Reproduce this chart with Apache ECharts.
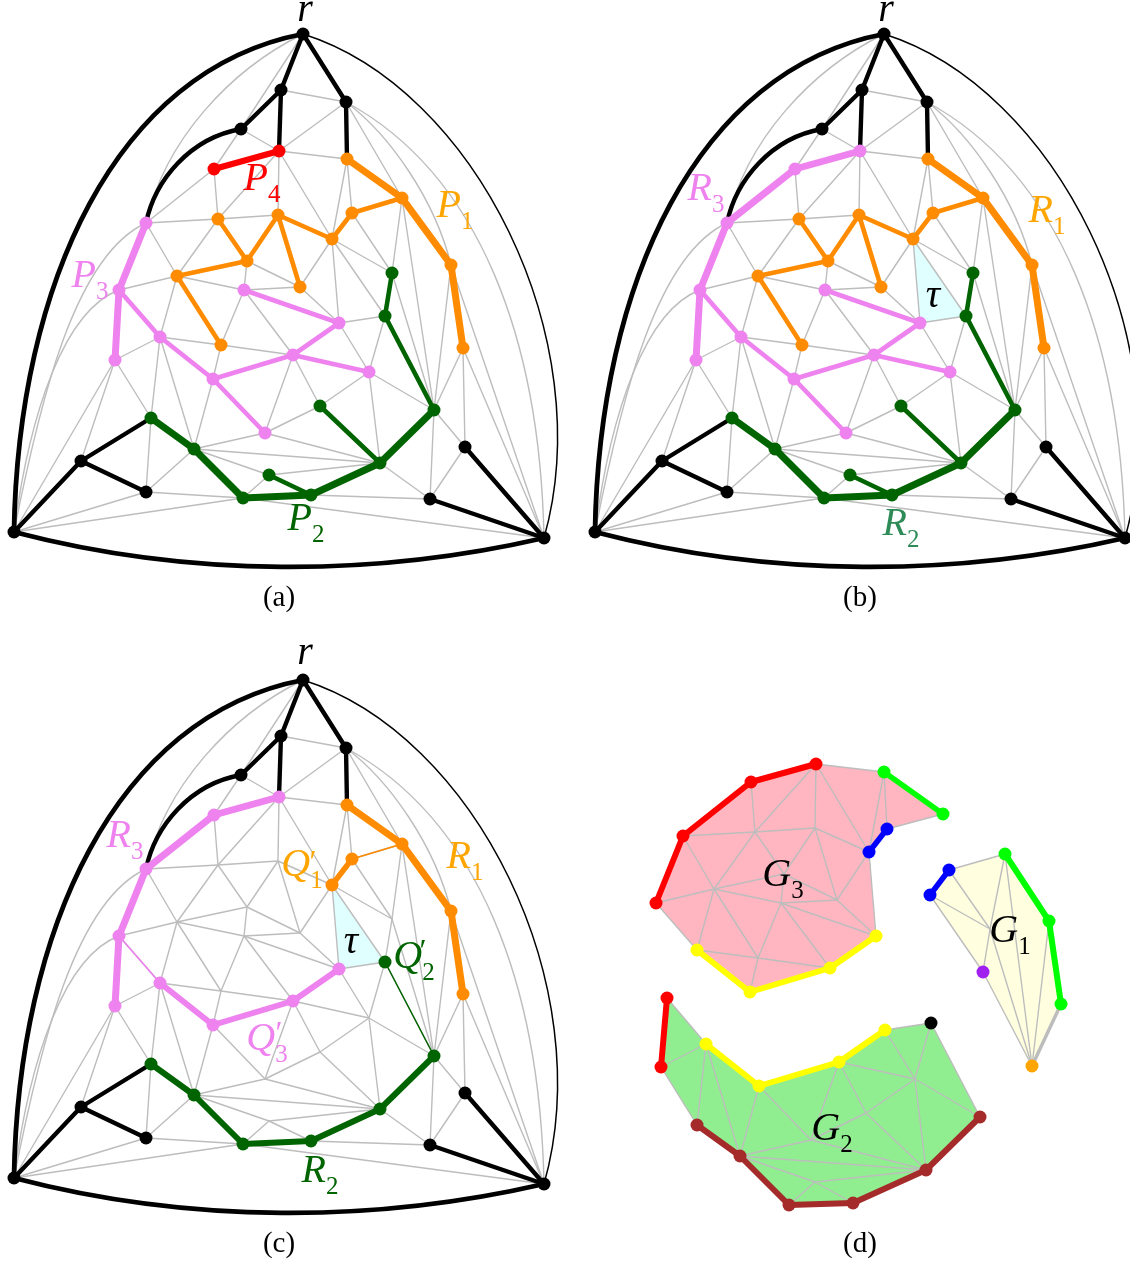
<!DOCTYPE html>
<html><head><meta charset="utf-8">
<style>html,body{margin:0;padding:0;background:#fff}#c{width:1130px;height:1262px}</style>
<script src="https://cdn.jsdelivr.net/npm/echarts@6/dist/echarts.min.js"></script>
</head><body><div id="c"></div>
<script>
const nodes = {
 r:[303,34],BL:[14,532],BR:[544,538],
 b1:[281,90],b2:[241,129],b3:[346,102],red1:[279,151],red2:[214,169],
 o1:[347,159],o2:[402,198],o3:[451,265],o4:[463,348],o5:[352,213],o6:[332,239],
 o7:[278,215],o8:[218,219],o9:[247,261],o10:[177,276],o11:[221,345],o12:[300,287],
 g1:[392,273],g2:[385,316],g3:[434,410],g4:[380,463],g5:[311,495],g6:[243,498],
 g7:[194,449],g8:[151,418],g9:[320,406],g10:[269,475],
 v1:[146,223],v2:[119,290],v3:[115,360],v4:[160,337],v5:[213,379],v6:[293,355],
 v7:[369,372],v8:[265,433],v9:[244,290],v10:[339,323],
 k1:[81,461],k2:[146,492],k3:[430,499],k4:[465,447]
};
const straightEdges = `r-b1 r-b3 r-b2 b1-b2 b1-b3 b1-red1 b3-o1 b2-red1 b2-red2 red1-red2 red1-b3 red1-o1 red1-o6 red1-o7 red1-o8
 red2-o8 red2-v1 v1-o8 v1-o10 v1-v2 v2-v3 v2-v4 v2-o10 v3-v4 v3-g8 v3-k1 v3-BL v4-o10 v4-o11 v4-v5 v4-g8 v4-g7
 o8-o7 o8-o9 o8-o10 o7-o9 o7-o12 o7-o6 o9-o10 o9-v9 o9-o12 o10-v9 o10-o11 v9-o11 v9-o12 v9-v10 v9-v6 o11-v5 o11-v6
 o12-o6 o12-v10 o6-o5 o6-v10 o6-g2 o6-g1 o5-o1 o6-o1 o5-o2 o5-g1 o1-o2 b3-o2 o2-o3 o3-o4 o2-g1 g1-g2 g1-g3 o2-g3 o3-g3 o3-BR o4-g3 o4-k4 o4-BR
 g2-g3 g2-v10 g2-v7 v10-v6 v10-v7 v6-v5 v6-v7 v6-v8 v6-g9 v5-v8 v5-g7 v7-g3 v7-g9 v7-g4 g9-g4 g9-v8 v8-g7 v8-g4
 g3-g4 g3-k3 g3-k4 k3-k4 g4-k3 g4-g5 g4-g7 g4-g10 g5-g6 g5-g10 g5-k3 g6-g7 g6-g10 g7-g8 g7-g10 g7-k2 g8-k1 g8-k2 k1-k2 k1-BL k2-g6 k2-BL g6-BL g6-BR k3-BR k4-BR`
 .trim().split(/\s+/).map(s=>s.split('-'));
// curved edges: start, two control values, end
const curveRBL = [[303,34],[115,70],[18,285],[14,532]];
const curveBLBR = [[14,532],[190,578],[375,577],[544,538]];
const curveRBR = [[303,34],[475,88],[600,340],[544,538]];
const curveB2V1 = [[241,129],[190,138],[155,180],[146,223]];
const curveRV1 = [[303,34],[230,70],[165,140],[146,223]];
const curveBLV1 = [[14,532],[40,400],[75,255],[146,223]];
const curveBLV2 = [[14,532],[30,410],[65,310],[119,290]];
const curveB3O3 = [[346,102],[390,135],[435,200],[451,265]];
const curveB3BR = [[346,102],[480,175],[540,340],[544,538]];
const greyCurves = [curveRV1,curveBLV1,curveBLV2,curveB3O3,curveB3BR];

const GREY='#bdbdbd',ORANGE='#ff8c00',VIOLET='#ee82ee',GREEN='#006400',RED='#ff0000',BLACK='#000000';
const LIME='#00ff00',BLUE='#0000ff',YELLOW='#ffff00',BROWN='#a52a2a';
const blackPaths = ['r b1 b2','b1 red1','r b3 o1','BL k1 g8','k1 k2','k3 BR','k4 BR'];
const orangeThick=['o1 o2 o3 o4'], orangeMid=['o2 o5 o6 o7 o12','o7 o9 o8','o9 o10 o11'];
const greenThick=['g3 g4 g5 g6 g7 g8'], greenMid=['g1 g2 g3','g4 g9','g5 g10'];
const violetThick=['v1 v2 v3'], violetMid=['v2 v4 v5 v6 v10 v9','v6 v7','v5 v8'];
const blackNodes='r b1 b2 b3 BL BR k1 k2 k3 k4';
const orangeNodes='o1 o2 o3 o4 o5 o6 o7 o8 o9 o10 o11 o12';
const greenNodes='g1 g2 g3 g4 g5 g6 g7 g8 g9 g10';
const violetNodes='v1 v2 v3 v4 v5 v6 v7 v8 v9 v10';
const tau=['o6','g2','v10'];

// Sub-graphs of panel (d)
const g3Nodes='red1 red2 v1 v2 o1 o2 o5 o6 o8 o7 o10 o9 v9 o12 v10 v6 v5 v4 o11';
const g2Nodes='v2 v3 v4 v5 v6 v7 v10 g2 g3 g4 g5 g6 g7 g8 g9 v8 g10';
const g1Nodes='o2 o3 o4 o5 o6 g1 g2 g3';
const g3Outline='v2 v1 red2 red1 o1 o2 o5 o6 v10 v6 v5 v4';
const g2Outline='v2 v4 v5 v6 v10 g2 g3 g4 g5 g6 g7 g8 v3';
const g1Outline='o5 o2 o3 o4 g3 g2 o6';

const THICK=7,MID=4.6,BL_W=4.4;
const series=[];
const toSeg=(pts,color,width,z)=>series.push({type:'line',data:pts,symbol:'none',silent:true,animation:false,z:z,
   lineStyle:{color:color,width:width,cap:'round',join:'round'}});
const toCurve=(pts,color,width,z)=>series.push({type:'custom',silent:true,animation:false,z:z,clip:true,
   data:[pts.flat()],
   renderItem:(params,api)=>{
     const q=[0,2,4,6].map(i=>api.coord([api.value(i),api.value(i+1)]));
     return {type:'bezierCurve',shape:{x1:q[0][0],y1:q[0][1],cpx1:q[1][0],cpy1:q[1][1],cpx2:q[2][0],cpy2:q[2][1],x2:q[3][0],y2:q[3][1]},
       style:{fill:null,stroke:color,lineWidth:width,lineCap:'round'}};
   }});
const shift=(p,o)=>[p[0]+o[0],p[1]+o[1]];
const pos=(n,o,ov)=>ov&&ov[n]?ov[n]:shift(nodes[n],o);
const paths=(list,color,w,o,ov)=>list.forEach(s=>{const a=s.split(' ');
   for(let i=0;i<a.length-1;i++) toSeg([pos(a[i],o,ov),pos(a[i+1],o,ov)],color,w,3);});
const dots=(names,color,o,ov,size)=>series.push({type:'scatter',silent:true,animation:false,z:4,symbolSize:size||13,
   itemStyle:{color:color,opacity:1},data:names.trim().split(/\s+/).map(n=>pos(n,o,ov))});
const polys=[];
function poly(names,fill,o,ov){polys.push({pts:names.map(n=>pos(n,o,ov)),fill:fill});}

function framework(o){
  straightEdges.forEach(e=>toSeg([shift(nodes[e[0]],o),shift(nodes[e[1]],o)],GREY,1.4,2));
  greyCurves.forEach(c=>toCurve(c.map(p=>shift(p,o)),GREY,1.4,2));
  toCurve(curveRBL.map(p=>shift(p,o)),BLACK,BL_W+.4,3);
  toCurve(curveBLBR.map(p=>shift(p,o)),BLACK,BL_W+.4,3);
  toCurve(curveRBR.map(p=>shift(p,o)),BLACK,1.5,3);
  toCurve(curveB2V1.map(p=>shift(p,o)),BLACK,BL_W,3);
  paths(blackPaths,BLACK,BL_W,o);
  dots(blackNodes,BLACK,o);
}
// panel a
let O=[0,0];
framework(O);
paths(['red1 red2'],RED,6,O);
paths(orangeThick,ORANGE,THICK,O);paths(orangeMid,ORANGE,MID,O);
paths(greenThick,GREEN,THICK,O);paths(greenMid,GREEN,MID,O);
paths(violetThick,VIOLET,THICK,O);paths(violetMid,VIOLET,MID,O);
dots('red1 red2',RED,O);dots(orangeNodes,ORANGE,O);dots(greenNodes,GREEN,O);dots(violetNodes,VIOLET,O);
// panel b
O=[581,0];
poly(tau,'#e0ffff',O);
framework(O);
paths(orangeThick,ORANGE,THICK,O);paths(orangeMid,ORANGE,MID,O);
paths(greenThick,GREEN,THICK,O);paths(greenMid,GREEN,MID,O);
paths(['v3 v2 v1 red2 red1'],VIOLET,THICK,O);paths(violetMid,VIOLET,MID,O);
dots(orangeNodes,ORANGE,O);dots(greenNodes,GREEN,O);dots(violetNodes+' red1 red2',VIOLET,O);
// panel c
O=[0,646];
poly(tau,'#e0ffff',O);
framework(O);
paths(['o1 o2 o3 o4'],ORANGE,THICK,O);paths(['o5 o6'],ORANGE,5.5,O);paths(['o5 o2'],ORANGE,1.6,O);
paths(greenThick,GREEN,6,O);paths(['g2 g3'],GREEN,1.5,O);
paths(['v3 v2 v1 red2 red1'],VIOLET,THICK,O);paths(['v4 v5 v6 v10'],VIOLET,6,O);paths(['v2 v4'],VIOLET,1.6,O);
dots('o1 o2 o3 o4 o5 o6',ORANGE,O);dots('g2 g3 g4 g5 g6 g7 g8',GREEN,O);dots('v1 v2 v3 v4 v5 v6 v10 red1 red2',VIOLET,O);
// panel d
function part(names,o,ov,outline,fill){
  const set=new Set(names.split(' '));
  poly(outline.split(' '),fill,o,ov);
  straightEdges.filter(e=>set.has(e[0])&&set.has(e[1])).forEach(e=>toSeg([pos(e[0],o,ov),pos(e[1],o,ov)],GREY,1.4,2));
}
const g3Off=[537,613],g3Ov={o2:[943,814],o5:[887,829]};
part(g3Nodes,g3Off,g3Ov,g3Outline,'#ffb6c1');
paths(['v2 v1 red2 red1'],RED,6,g3Off,g3Ov);paths(['o1 o2'],LIME,5.5,g3Off,g3Ov);
paths(['o5 o6'],BLUE,5.5,g3Off,g3Ov);paths(['v4 v5 v6 v10'],YELLOW,6,g3Off,g3Ov);
dots('v2 v1 red2 red1',RED,g3Off,g3Ov);dots('o1 o2',LIME,g3Off,g3Ov);dots('o5 o6',BLUE,g3Off,g3Ov);dots('v4 v5 v6 v10',YELLOW,g3Off,g3Ov);

const g2Off=[546,707],g2Ov={g5:[853,1203],v2:[667,998]};
part(g2Nodes,g2Off,g2Ov,g2Outline,'#90ee90');
paths(['v2 v3'],RED,6,g2Off,g2Ov);paths(['v4 v5 v6 v10'],YELLOW,6,g2Off,g2Ov);paths(['g3 g4 g5 g6 g7 g8'],BROWN,6,g2Off,g2Ov);
dots('v2 v3',RED,g2Off,g2Ov);dots('v4 v5 v6 v10',YELLOW,g2Off,g2Ov);dots('g3 g4 g5 g6 g7 g8',BROWN,g2Off,g2Ov);dots('g2',BLACK,g2Off,g2Ov);

const g1Off=[598,656],g1Ov={o2:[1005,854],o5:[949,870]};
part(g1Nodes,g1Off,g1Ov,g1Outline,'#ffffe0');
paths(['o4 g3'],GREY,3.5,g1Off,g1Ov);
paths(['o5 o6'],BLUE,5.5,g1Off,g1Ov);paths(['o2 o3 o4'],LIME,6,g1Off,g1Ov);
dots('o5 o6',BLUE,g1Off,g1Ov);dots('o2 o3 o4',LIME,g1Off,g1Ov);dots('g3',"#ffa500",g1Off,g1Ov);dots('g2','#a020f0',g1Off,g1Ov);

// polygons through the axes' own scale
series.unshift({type:'custom',silent:true,animation:false,z:1,clip:false,
  data:polys.map((p,i)=>[i]),
  renderItem:(params,api)=>({type:'polygon',shape:{points:polys[api.value(0)].pts.map(p=>api.coord(p))},style:{fill:polys[api.value(0)].fill}})});

// text
const FONT='"Liberation Serif","DejaVu Serif",serif';
const math=(x,y,main,sub,color)=>{
  const rich={m:{fontFamily:FONT,fontStyle:'italic',fontSize:40,color:color,lineHeight:38,verticalAlign:'bottom'},
              s:{fontFamily:FONT,fontSize:25,color:color,lineHeight:30,verticalAlign:'bottom',padding:[0,0,-9,0]}};
  return {value:[x,y],label:{show:true,position:'inside',formatter:sub?`{m|${main}}{s|${sub}}`:`{m|${main}}`,rich:rich}};
};
const cap=(x,y,t)=>({value:[x,y],label:{show:true,position:'inside',formatter:t,fontFamily:FONT,fontSize:29,color:'#000'}});
const tick=(x,y,color)=>({value:[x,y],label:{show:true,position:'inside',formatter:'\u2032',fontFamily:FONT,fontSize:32,color:color}});
series.push({type:'scatter',silent:true,animation:false,z:6,symbolSize:1,itemStyle:{color:'rgba(0,0,0,0)',opacity:1},data:[
  math(305,11,'r','',BLACK),math(455,207,'P','1','#ffa500'),math(306,520,'P','2',GREEN),math(90,277,'P','3',VIOLET),math(262,180,'P','4',RED),
  math(886,11,'r','',BLACK),math(1047,212,'R','1','#ffa500'),math(901,525,'R','2','#2e8b57'),math(706,190,'R','3',VIOLET),math(933,297,'\u03c4','',BLACK),
  math(305,654,'r','',BLACK),math(465,858,'R','1','#ffa500'),math(320,1172,'R','2',GREEN),math(125,837,'R','3',VIOLET),math(351,943,'\u03c4','',BLACK),
  math(302,866,'Q','1','#ffa500'),tick(313,864,'#ffa500'),math(414,958,'Q','2',GREEN),tick(423,953,GREEN),math(267,1040,'Q','3',VIOLET),tick(279,1035,VIOLET),
  math(783,876,'G','3',BLACK),math(832,1130,'G','2',BLACK),math(1010,932,'G','1',BLACK),
  cap(279,598,'(a)'),cap(860,598,'(b)'),cap(279,1244,'(c)'),cap(860,1244,'(d)')
]});

const chart=echarts.init(document.getElementById('c'),null,{renderer:'canvas'});
chart.setOption({animation:false,backgroundColor:'#fff',
  grid:{left:0,right:0,top:0,bottom:0,containLabel:false},
  xAxis:{type:'value',min:0,max:1130,show:false},
  yAxis:{type:'value',min:0,max:1262,inverse:true,show:false},
  series:series});
</script></body></html>
